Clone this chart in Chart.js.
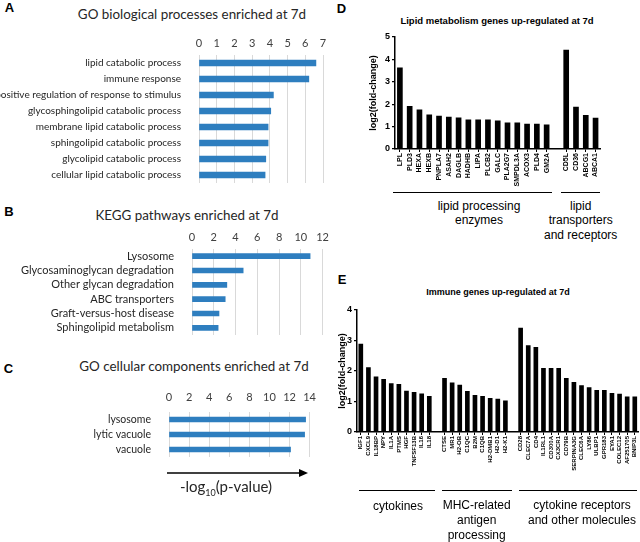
<!DOCTYPE html>
<html>
<head>
<meta charset="utf-8">
<script src="https://cdn.jsdelivr.net/npm/chart.js@4"></script>
<style>
  body { margin: 0; background: #fff; }
  #wrap { position: relative; width: 640px; height: 542px; overflow: hidden; }
  canvas { position: absolute; }
  .t { position: absolute; white-space: nowrap; transform: translate(-50%, -50%); line-height: 1; }
  .letter { font: bold 13px "Liberation Sans", Arial, sans-serif; color: #000; }
  .xl { font-family: Lato, sans-serif; font-size: 13.4px; color: #262626; }
  .gt { font: bold 9.5px "Liberation Sans", Arial, sans-serif; color: #000; }
  .grp { position: absolute; transform: translateX(-50%); text-align: center; white-space: nowrap;
         font: 12px "Liberation Sans", Arial, sans-serif; color: #000; }
  .br { position: absolute; height: 0; border-top: 1.3px solid #000; }
</style>
</head>
<body>
<div id="wrap">
  <div class="t letter" style="left:9.5px; top:7px">A</div>
  <div class="t xl" style="left:192px; top:15px">GO biological processes enriched at 7d</div>
  <canvas id="cA" width="333" height="165" style="left:0; top:35px"></canvas>

  <div class="t letter" style="left:9px; top:211px">B</div>
  <div class="t xl" style="left:187px; top:216px">KEGG pathways enriched at 7d</div>
  <canvas id="cB" width="334" height="123" style="left:0; top:229px"></canvas>

  <div class="t letter" style="left:8.5px; top:368px">C</div>
  <div class="t xl" style="left:194px; top:367px">GO cellular components enriched at 7d</div>
  <canvas id="cC" width="324" height="84" style="left:0; top:390px"></canvas>
  <svg style="position:absolute; left:165px; top:466px" width="150" height="14">
    <line x1="2" y1="7" x2="136" y2="7" stroke="#000" stroke-width="1.3"/>
    <polygon points="134,3 143,7 134,11" fill="#000"/>
  </svg>
  <div class="t xl" style="left:226px; top:488px; font-size:15px">-log<sub style="font-size:9px">10</sub>(p-value)</div>

  <div class="t letter" style="left:341.5px; top:8px">D</div>
  <div class="t gt" style="left:497px; top:20px">Lipid metabolism genes up-regulated at 7d</div>
  <canvas id="cD" width="237" height="162" style="left:368px; top:29px"></canvas>
  <div class="br" style="left:393px; top:192px; width:159px"></div>
  <div class="br" style="left:561px; top:192px; width:39px"></div>
  <div class="grp" style="left:479px; top:199px; line-height:14px">lipid processing<br>enzymes</div>
  <div class="grp" style="left:580.7px; top:198.7px; line-height:14.5px">lipid<br>transporters<br>and receptors</div>

  <div class="t letter" style="left:342px; top:279px">E</div>
  <div class="t gt" style="left:498px; top:292px; font-size:9px">Immune genes up-regulated at 7d</div>
  <canvas id="cE" width="306" height="186" style="left:337px; top:302px"></canvas>
  <div class="br" style="left:359px; top:490px; width:76px"></div>
  <div class="br" style="left:442px; top:490px; width:70px"></div>
  <div class="br" style="left:519px; top:490px; width:118px"></div>
  <div class="grp" style="left:398px; top:498.7px; line-height:14px">cytokines</div>
  <div class="grp" style="left:476.7px; top:498.4px; line-height:14.7px">MHC-related<br>antigen<br>processing</div>
  <div class="grp" style="left:582px; top:498.4px; line-height:14.7px">cytokine receptors<br>and other molecules</div>
</div>

<script>
// A - GO biological processes
const bpLabels = ['lipid catabolic process', 'immune response', 'positive regulation of response to stimulus',
  'glycosphingolipid catabolic process', 'membrane lipid catabolic process', 'sphingolipid catabolic process',
  'glycolipid catabolic process', 'cellular lipid catabolic process'];
const bpValues = [6.6, 6.2, 4.2, 4.05, 3.9, 3.9, 3.77, 3.73];
const bpTicks = [0, 1, 2, 3, 4, 5, 6, 7];

// B - KEGG
const keggLabels = ['Lysosome', 'Glycosaminoglycan degradation', 'Other glycan degradation',
  'ABC transporters', 'Graft-versus-host disease', 'Sphingolipid metabolism'];
const keggValues = [10.85, 4.7, 3.2, 3.05, 2.48, 2.4];
const keggTicks = [0, 2, 4, 6, 8, 10, 12];

// C - GO cellular components
const ccLabels = ['lysosome', 'lytic vacuole', 'vacuole'];
const ccValues = [13.6, 13.5, 12.1];
const ccTicks = [0, 2, 4, 6, 8, 10, 12, 14];

// D - lipid genes ('' = gap between groups)
const lipidLabels = ['LPL', 'PLD3', 'HEXA', 'HEXB', 'PNPLA7', 'ASAH2', 'DAGLB', 'HADHB', 'LIPA', 'PLCB2',
  'GALC', 'PLA2G7', 'SMPDL3A', 'ACOX3', 'PLD4', 'GM2A', '', 'CD5L', 'CD36', 'ABCG1', 'ABCA1'];
const lipidValues = [3.62, 1.9, 1.75, 1.53, 1.47, 1.42, 1.39, 1.3, 1.3, 1.3,
  1.26, 1.17, 1.17, 1.11, 1.11, 1.08, null, 4.42, 1.87, 1.5, 1.38];
const lipidTicks = [0, 1, 2, 3, 4, 5];

// E - immune genes
const immuneLabels = ['IGF1', 'CXCL9', 'IL18BP', 'NPY', 'IL1A', 'PTMS', 'HGF', 'TNFSF13B', 'IL16', 'IL18', '',
  'CTSE', 'MR1', 'H2-OB', 'C1QC', 'B2M', 'C1QB', 'H2-DMB1', 'H2-D1', 'H2-K1', '',
  'CD28', 'CLEC7A', 'CD4', 'IL1RL1', 'CD300A', 'CX3CR1', 'CD79B', 'SERPINA3G', 'CLEC6A', 'LY86',
  'ULBP1', 'GPR183', 'EYA1', 'COLEC12', 'AF251705', 'BNIP3L'];
const immuneValues = [2.88, 2.11, 1.81, 1.73, 1.59, 1.56, 1.34, 1.3, 1.25, 1.17, null,
  1.76, 1.61, 1.54, 1.33, 1.2, 1.17, 1.1, 1.08, 1.02, null,
  3.41, 2.83, 2.78, 2.09, 2.09, 2.09, 1.76, 1.63, 1.52, 1.46,
  1.37, 1.37, 1.27, 1.24, 1.15, 1.15];
const immuneTicks = [0, 1, 2, 3, 4];

const BLUE = '#2e7ebf';
const ARIAL = '"Liberation Sans", Arial, sans-serif';

// horizontal excel-style bars (A, B, C)
function hbar(id, labels, values, ticks, o) {
  return new Chart(document.getElementById(id), {
    type: 'bar',
    data: { labels, datasets: [{ data: values, backgroundColor: BLUE, barThickness: o.bar }] },
    options: {
      indexAxis: 'y',
      responsive: false,
      animation: false,
      // bottom padding soaks up the label padding chart.js adds under the last row
      layout: { padding: { left: 0, right: 10, top: 0, bottom: 17 } },
      plugins: { legend: { display: false }, tooltip: { enabled: false } },
      scales: {
        x: {
          position: 'top',
          min: ticks[0],
          max: ticks[ticks.length - 1],
          border: { display: false },
          grid: { color: '#d9d9d9', drawTicks: false },
          ticks: { stepSize: ticks[1] - ticks[0], padding: o.tickPad, color: '#404040',
                   font: { family: 'Lato', size: 11 } },
          afterFit: s => { s.height = o.hx; }
        },
        y: {
          border: { display: false },
          grid: { display: false },
          ticks: { autoSkip: false, padding: 10, color: '#262626', font: { family: 'Lato', size: o.labelSize } },
          afterFit: s => { s.width = o.wy; }
        }
      }
    }
  });
}

// graphpad-style black columns (D, E)
function vbar(id, labels, values, ticks, o) {
  const bold = size => ({ family: ARIAL, weight: 'bold', size });
  return new Chart(document.getElementById(id), {
    type: 'bar',
    data: { labels, datasets: [{ data: values, backgroundColor: '#000', barThickness: o.bar }] },
    options: {
      responsive: false,
      animation: false,
      layout: { padding: { left: 0, right: o.padR, top: 8, bottom: 0 } },
      plugins: { legend: { display: false }, tooltip: { enabled: false } },
      scales: {
        x: {
          border: { color: '#000', width: 1.5 },
          grid: { offset: false, drawOnChartArea: false, tickLength: 3, lineWidth: 1,
                  color: ctx => labels[ctx.index] ? '#000' : 'rgba(0,0,0,0)' },
          ticks: { autoSkip: false, maxRotation: 90, minRotation: 90, padding: 1, color: '#000',
                   font: bold(o.labelSize) },
          afterFit: s => { s.height = o.hx; }
        },
        y: {
          min: ticks[0],
          max: ticks[ticks.length - 1],
          border: { color: '#000', width: 1.5 },
          grid: { drawOnChartArea: false, tickLength: 3, color: '#000', lineWidth: 1.2 },
          ticks: { stepSize: 1, padding: 2, color: '#000', font: bold(9) },
          title: { display: true, text: 'log2(fold-change)', padding: 0, color: '#000', font: bold(9) },
          afterFit: s => { s.width = o.wy; }
        }
      }
    }
  });
}

hbar('cA', bpLabels, bpValues, bpTicks, { wy: 199, hx: 20, tickPad: 5, bar: 6, labelSize: 10 });
hbar('cB', keggLabels, keggValues, keggTicks, { wy: 192, hx: 20, tickPad: 5, bar: 5, labelSize: 11 });
hbar('cC', ccLabels, ccValues, ccTicks, { wy: 169, hx: 22, tickPad: 8, bar: 5, labelSize: 10.5 });
vbar('cD', lipidLabels, lipidValues, lipidTicks, { wy: 27, hx: 42, padR: 2, bar: 5, labelSize: 7 });
vbar('cE', immuneLabels, immuneValues, immuneTicks, { wy: 20, hx: 56, padR: 1, bar: 4, labelSize: 6 });
</script>
</body>
</html>
